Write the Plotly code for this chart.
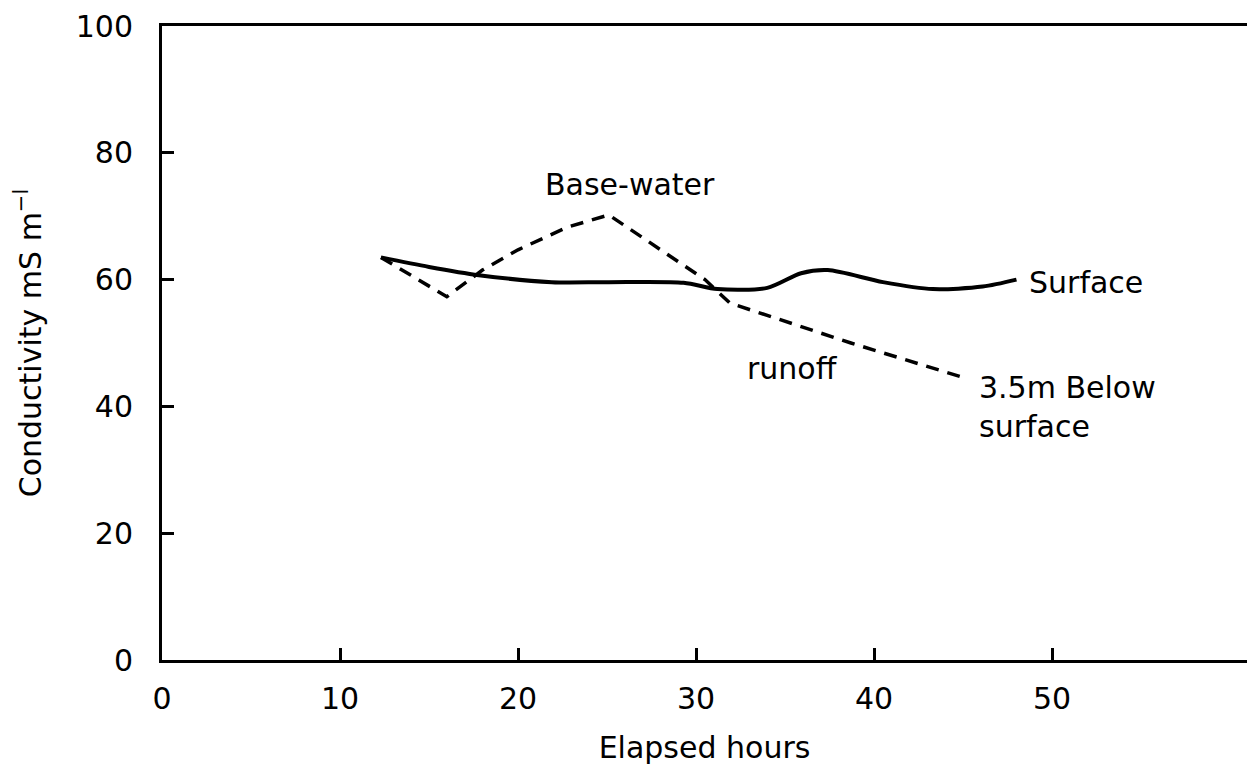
import plotly.graph_objects as go

# Surface conductivity (solid line)
surface_hours = [12.3, 15.0, 17.8, 21.9, 25.0, 29.3, 31.2, 34.0, 35.9, 37.4, 40.5, 43.3, 46.1, 48.0]
surface_cond = [63.5, 62.0, 60.7, 59.6, 59.6, 59.5, 58.5, 58.7, 61.0, 61.5, 59.6, 58.5, 58.9, 60.0]

# Base-water runoff, 3.5 m below surface (dashed line)
base_hours = [12.3, 16.0, 18.0, 20.0, 22.8, 25.1, 30.5, 31.9, 38.7, 45.2]
base_cond = [63.5, 57.3, 61.5, 64.7, 68.3, 70.2, 60.0, 56.3, 50.0, 44.4]

x_ticks = [10, 20, 30, 40, 50]
x_tick_labels = ["0", "10", "20", "30", "40", "50"]
y_ticks = [0, 20, 40, 60, 80, 100]

FONT = "DejaVu Sans"

fig = go.Figure()
fig.add_trace(go.Scatter(
    x=surface_hours, y=surface_cond, mode="lines",
    line=dict(color="black", width=4, shape="spline", smoothing=0.8),
    showlegend=False, hoverinfo="skip"))
fig.add_trace(go.Scatter(
    x=base_hours, y=base_cond, mode="lines",
    line=dict(color="black", width=3.5, dash="13px,9px"),
    showlegend=False, hoverinfo="skip"))

ann_font = dict(family=FONT, size=30, color="black")
fig.add_annotation(x=26.3, y=75.0, text="Base-water", showarrow=False,
                   xanchor="center", yanchor="middle", font=ann_font)
fig.add_annotation(x=48.6, y=59.5, text="Surface", showarrow=False,
                   xanchor="left", yanchor="middle", font=ann_font)
fig.add_annotation(x=35.4, y=46.0, text="runoff", showarrow=False,
                   xanchor="center", yanchor="middle", font=ann_font)
fig.add_annotation(x=45.8, y=43.0, text="3.5m Below", showarrow=False,
                   xanchor="left", yanchor="middle", font=ann_font)
fig.add_annotation(x=45.8, y=36.8, text="surface", showarrow=False,
                   xanchor="left", yanchor="middle", font=ann_font)

fig.update_layout(
    width=1247, height=767,
    margin=dict(l=162, r=0, t=26, b=107),
    paper_bgcolor="white", plot_bgcolor="white",
    font=dict(family=FONT, color="black"),
)
fig.update_xaxes(
    range=[0, 60.95], showgrid=False, zeroline=False,
    showline=True, linecolor="black", linewidth=3, mirror=True,
    tickmode="array", tickvals=[0] + x_ticks, ticktext=x_tick_labels,
    ticks="inside", ticklen=12, tickwidth=2.5, tickcolor="black",
    tickfont=dict(family=FONT, size=30, color="black"),
    ticklabelstandoff=10,
    title=dict(text="Elapsed hours", font=dict(family=FONT, size=30, color="black"), standoff=22),
)
fig.update_yaxes(
    range=[0, 100], showgrid=False, zeroline=False,
    showline=True, linecolor="black", linewidth=3,
    tickmode="array", tickvals=y_ticks, ticktext=[str(v) for v in y_ticks],
    ticks="inside", ticklen=12, tickwidth=2.5, tickcolor="black",
    tickfont=dict(family=FONT, size=30, color="black"),
    ticklabelstandoff=20,
    title=dict(text="Conductivity mS m<sup>−l</sup>", font=dict(family=FONT, size=30, color="black"), standoff=26),
)

fig.write_html("out.html")
